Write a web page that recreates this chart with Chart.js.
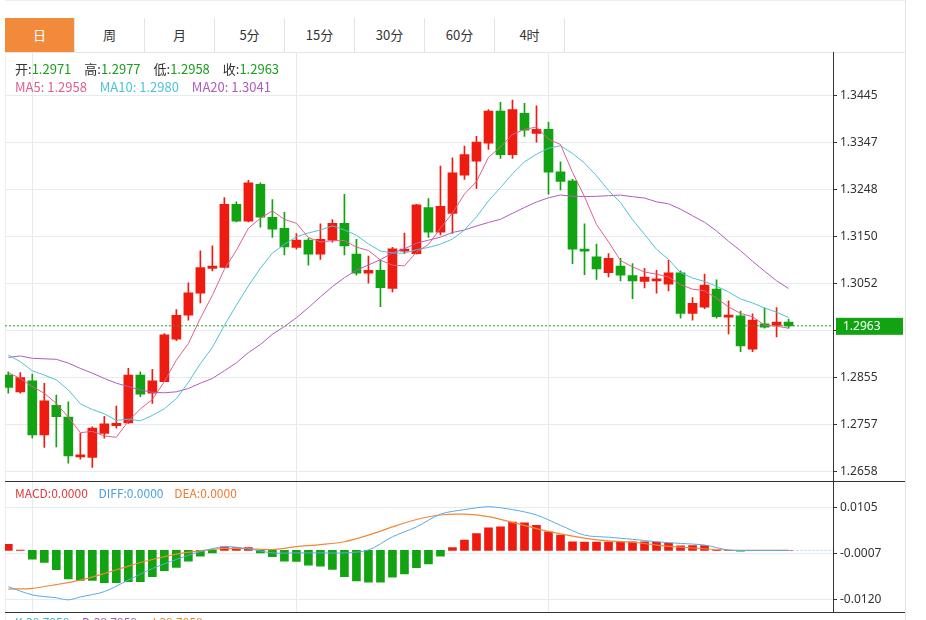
<!DOCTYPE html>
<html>
<head>
<meta charset="utf-8">
<script src="https://cdn.jsdelivr.net/npm/chart.js@4/dist/chart.umd.min.js"></script>
<style>
  body { margin:0; background:#fff; font-family:"Noto Sans CJK SC","Noto Sans",sans-serif; width:926px; height:620px; overflow:hidden; position:relative; }
  .tabs { position:absolute; left:5px; top:18px; height:34px; display:flex; }
  .tab { width:70px; height:34px; line-height:34px; text-align:center; font-size:13px; color:#333; border-right:1px solid #e3e3e3; box-sizing:border-box; }
  .tab.on { background:#f18a3b; color:#fff; }
  .hline { position:absolute; height:1px; }
  .vline { position:absolute; width:1px; }
  .info { position:absolute; font-size:13px; white-space:nowrap; }
  .info span { margin-right:10px; }
  canvas { position:absolute; }
</style>
</head>
<body>
<div class="tabs">
  <div class="tab on">日</div><div class="tab">周</div><div class="tab">月</div><div class="tab">5分</div>
  <div class="tab">15分</div><div class="tab">30分</div><div class="tab">60分</div><div class="tab">4时</div>
</div>
<div class="hline" style="left:5px;top:52px;width:900px;background:#e6e6e6"></div>
<div class="hline" style="left:5px;top:0;width:900px;background:#eee"></div>
<div class="vline" style="left:905px;top:0;height:620px;background:#e3e3e3"></div>
<div class="vline" style="left:5px;top:52px;height:568px;background:#eef1f3"></div>

<canvas id="mainChart" width="905" height="449" style="left:0;top:42px"></canvas>
<canvas id="macdChart" width="905" height="151" style="left:0;top:471px"></canvas>
<div class="hline" style="left:5px;top:481px;width:900px;background:#333"></div>
<div class="hline" style="left:5px;top:612px;width:900px;background:#333"></div>

<div class="info" style="left:15px;top:59px;color:#333">
  <span>开:<b style="font-weight:normal;color:#1a9f1a">1.2971</b></span>
  <span>高:<b style="font-weight:normal;color:#1a9f1a">1.2977</b></span>
  <span>低:<b style="font-weight:normal;color:#1a9f1a">1.2958</b></span>
  <span>收:<b style="font-weight:normal;color:#1a9f1a">1.2963</b></span>
</div>
<div class="info" style="left:15px;top:77px">
  <span style="color:#e0608a">MA5: 1.2958</span>
  <span style="color:#4fc3d8">MA10: 1.2980</span>
  <span style="color:#b05cc0">MA20: 1.3041</span>
</div>
<div class="info" style="left:15px;top:484px;font-size:12px">
  <span style="color:#e03a3a;margin-right:8px">MACD:0.0000</span>
  <span style="color:#4a9fe0;margin-right:8px">DIFF:0.0000</span>
  <span style="color:#ee7a30">DEA:0.0000</span>
</div>
<div class="info" style="left:15px;top:613px;font-size:12px">
  <span style="color:#3bb6c8">K:38.7958</span>
  <span style="color:#9b59b6">D:38.7958</span>
  <span style="color:#e58a2e">J:38.7958</span>
</div>

<script>
const opens  = [1.2860,1.2825,1.2848,1.2735,1.2797,1.2772,1.2689,1.2688,1.2738,1.2754,1.2760,1.2860,1.2822,1.2846,1.2935,1.2985,1.3031,1.3083,1.3085,1.3217,1.3182,1.3259,1.3190,1.3167,1.3127,1.3142,1.3113,1.3142,1.3177,1.3113,1.3073,1.3079,1.3041,1.3119,1.3114,1.3210,1.3159,1.3198,1.3278,1.3307,1.3345,1.3412,1.3321,1.3407,1.3365,1.3374,1.3285,1.3266,1.3123,1.3107,1.3074,1.3088,1.3068,1.3056,1.3057,1.3050,1.3074,1.2989,1.3002,1.3040,1.2981,1.2984,1.2914,1.2967,1.2964,1.2971];
const highs  = [1.2867,1.2865,1.2862,1.2843,1.2818,1.2804,1.2738,1.2752,1.2774,1.2795,1.2874,1.2867,1.2872,1.2947,1.2997,1.3053,1.3120,1.3130,1.3231,1.3222,1.3267,1.3262,1.3227,1.3200,1.3156,1.3146,1.3176,1.3185,1.3238,1.3144,1.3109,1.3100,1.3127,1.3157,1.3217,1.3229,1.3297,1.3314,1.3339,1.3359,1.3415,1.3430,1.3435,1.3428,1.3423,1.3389,1.3306,1.3269,1.3176,1.3134,1.3114,1.3104,1.3093,1.3083,1.3079,1.3100,1.3078,1.3022,1.3071,1.3059,1.3015,1.2994,1.2988,1.3000,1.3001,1.2977];
const lows   = [1.2822,1.2822,1.2728,1.2709,1.2710,1.2676,1.2684,1.2667,1.2728,1.2749,1.2759,1.2815,1.2801,1.2846,1.2932,1.2975,1.3011,1.3078,1.3085,1.3180,1.3180,1.3169,1.3148,1.3111,1.3123,1.3090,1.3102,1.3138,1.3111,1.3069,1.3052,1.3003,1.3034,1.3114,1.3113,1.3148,1.3153,1.3156,1.3269,1.3250,1.3332,1.3313,1.3313,1.3359,1.3347,1.3238,1.3247,1.3093,1.3070,1.3060,1.3065,1.3057,1.3020,1.3042,1.3031,1.3036,1.2979,1.2975,1.2999,1.2979,1.2946,1.2909,1.2909,1.2958,1.2940,1.2958];
const closes = [1.2834,1.2855,1.2735,1.2806,1.2773,1.2691,1.2693,1.2749,1.2758,1.2759,1.2860,1.2820,1.2848,1.2944,1.2985,1.3032,1.3085,1.3088,1.3217,1.3182,1.3262,1.3190,1.3165,1.3128,1.3142,1.3113,1.3144,1.3177,1.3130,1.3073,1.3079,1.3043,1.3124,1.3123,1.3216,1.3159,1.3213,1.3283,1.3321,1.3347,1.3412,1.3321,1.3415,1.3372,1.3374,1.3284,1.3265,1.3123,1.3119,1.3082,1.3104,1.3069,1.3057,1.3065,1.3060,1.3074,1.2989,1.3010,1.3048,1.2982,1.2984,1.2921,1.2975,1.2960,1.2971,1.2963];

// moving-average values for the first bars (earlier history is not shown)
const ma5Head  = [1.2865,1.2853,1.2836,1.2822];
const ma10Head = [1.2902,1.2888,1.2869,1.2860,1.2850,1.2829,1.2800,1.2788,1.2779];
const ma20Head = [1.2897,1.2900,1.2895,1.2894,1.2893,1.2885,1.2874,1.2864,1.2853,1.2843,1.2836,1.2829,1.2824,1.2823,1.2825,1.2832,1.2843,1.2853,1.2869];

const priceTicks = [1.3445,1.3347,1.3248,1.3150,1.3052,1.2953,1.2855,1.2757,1.2658];
const lastPrice = 1.2963;

const macdHist = [0.0015,0.0001,-0.0021,-0.0029,-0.0047,-0.0069,-0.0073,-0.0073,-0.0078,-0.0078,-0.0076,-0.0076,-0.0064,-0.0049,-0.0041,-0.0026,-0.0014,-0.0006,0.0009,0.0007,0.0007,-0.0006,-0.0015,-0.0026,-0.0027,-0.0036,-0.0038,-0.0046,-0.0064,-0.0074,-0.0077,-0.0077,-0.0065,-0.0057,-0.0042,-0.0033,-0.0014,0.0007,0.0025,0.0041,0.0055,0.0057,0.0069,0.0067,0.0061,0.0045,0.0037,0.0021,0.0020,0.0020,0.0020,0.0020,0.0021,0.0021,0.0020,0.0017,0.0011,0.0012,0.0012,0.0001,0,-0.0002,0,0,0,0];
const diffIdx  = [0,2,4,5,6,8,10,12,14,16,18,20,22,24,26,28,30,32,34,36,38,40,42,44,46,48,50,52,54,56,58,60,62,65];
const diffVals = [-0.0088,-0.0108,-0.0115,-0.0120,-0.0113,-0.0100,-0.0072,-0.0044,-0.0022,-0.0003,0.0009,0.0004,-0.0006,-0.0006,-0.0006,-0.0006,0.0001,0.0033,0.0057,0.0088,0.0099,0.0106,0.0099,0.0086,0.0061,0.0037,0.0032,0.0027,0.0021,0.0017,0.0013,0.0001,0,0];
const deaIdx   = [0,2,4,6,8,10,12,14,16,18,20,22,24,26,28,30,32,34,36,38,40,42,44,46,48,50,52,54,56,58,60,62,65];
const deaVals  = [-0.0094,-0.0092,-0.0083,-0.0072,-0.0056,-0.0038,-0.0022,-0.0009,-0.0001,0.0005,0.0004,0.0002,0.0009,0.0014,0.0021,0.0037,0.0057,0.0075,0.0086,0.0088,0.0082,0.0068,0.0053,0.0040,0.0030,0.0023,0.0020,0.0013,0.0008,0.0004,0.0001,0,0];
const macdTicks = [0.0105,-0.0007,-0.0120];

const UP = '#ee1c10', DOWN = '#12a312';
const XMIN = -0.275, XMAX = 68.7;
const vGrid = [2, 24, 45];

function movingAvg(n, head) {
  return closes.map((c, i) => {
    if (i < n - 1) return {x: i, y: head[i]};
    let s = 0;
    for (let k = i - n + 1; k <= i; k++) s += closes[k];
    return {x: i, y: s / n};
  });
}

const candleColors = closes.map((c, i) => c >= opens[i] ? UP : DOWN);

// vertical grid lines at fixed bar positions
const vGridPlugin = {
  id: 'vGrid',
  beforeDatasetsDraw(chart) {
    const ctx = chart.ctx, a = chart.chartArea, x = chart.scales.x;
    ctx.save();
    ctx.strokeStyle = '#e6ebef';
    ctx.lineWidth = 1;
    vGrid.forEach(v => {
      const px = Math.round(x.getPixelForValue(v)) + 0.5;
      ctx.beginPath(); ctx.moveTo(px, a.top); ctx.lineTo(px, a.bottom); ctx.stroke();
    });
    ctx.restore();
  }
};

function xScale() {
  return {
    type: 'linear', min: XMIN, max: XMAX, offset: false,
    ticks: {display: false},
    grid: {display: false},
    border: {display: false}
  };
}
function yScale(min, max, ticks, fmt) {
  return {
    position: 'right', min: min, max: max,
    afterBuildTicks: a => { a.ticks = ticks.map(v => ({value: v})); },
    afterFit: s => { s.width = 72; },
    ticks: {color: '#333', font: {size: 12, family: 'Noto Sans'}, padding: 3, callback: fmt},
    grid: {color: '#e6ebef', tickColor: '#333', tickLength: 4},
    border: {display: true, color: '#333'}
  };
}

const priceTag = {
  id: 'priceTag',
  afterDraw(chart) {
    const ctx = chart.ctx, y = chart.scales.y.getPixelForValue(lastPrice);
    ctx.save();
    ctx.fillStyle = '#12a312';
    ctx.fillRect(836, y - 8, 67, 17);
    ctx.fillStyle = '#fff';
    ctx.font = '12px "Noto Sans"';
    ctx.textBaseline = 'middle';
    ctx.fillText(lastPrice.toFixed(4), 843, y + 1);
    ctx.restore();
  }
};

new Chart(document.getElementById('mainChart'), {
  type: 'bar',
  data: {
    datasets: [
      {data: closes.map((c, i) => ({x: i, y: [lows[i], highs[i]]})), backgroundColor: candleColors, barThickness: 1, grouped: false, order: 2},
      {data: closes.map((c, i) => ({x: i, y: [opens[i], c]})), backgroundColor: candleColors, barThickness: 9, minBarLength: 2, grouped: false, order: 1},
      {type: 'line', data: movingAvg(5, ma5Head), borderColor: '#e0608a', borderWidth: 1, pointRadius: 0, tension: 0, order: 0},
      {type: 'line', data: movingAvg(10, ma10Head), borderColor: '#4fc3d8', borderWidth: 1, pointRadius: 0, tension: 0, order: 0},
      {type: 'line', data: movingAvg(20, ma20Head), borderColor: '#b05cc0', borderWidth: 1, pointRadius: 0, tension: 0, order: 0},
      {type: 'line', data: [{x: XMIN, y: lastPrice}, {x: XMAX, y: lastPrice}], borderColor: '#2a9d2a', borderWidth: 1, borderDash: [2, 2], pointRadius: 0, order: 0}
    ]
  },
  options: {
    animation: false, responsive: false, devicePixelRatio: 1,
    layout: {padding: {left: 5, top: 0, bottom: 0, right: 0}},
    plugins: {legend: {display: false}, tooltip: {enabled: false}},
    scales: {x: xScale(), y: yScale(1.2639, 1.3535, priceTicks, v => v.toFixed(4))}
  },
  plugins: [vGridPlugin, priceTag]
});

new Chart(document.getElementById('macdChart'), {
  type: 'bar',
  data: {
    datasets: [
      {data: macdHist.map((v, i) => ({x: i, y: v})), backgroundColor: macdHist.map(v => v >= 0 ? UP : DOWN), barThickness: 8, grouped: false, order: 1},
      {type: 'line', data: diffIdx.map((x, k) => ({x: x, y: diffVals[k]})), borderColor: '#5aaae6', borderWidth: 1, pointRadius: 0, tension: 0.3, order: 0},
      {type: 'line', data: deaIdx.map((x, k) => ({x: x, y: deaVals[k]})), borderColor: '#f0883a', borderWidth: 1.2, pointRadius: 0, tension: 0.3, order: 0},
      {type: 'line', data: [{x: 65, y: 0}, {x: XMAX, y: 0}], borderColor: '#a8d4f0', borderWidth: 1, borderDash: [2, 2], pointRadius: 0, order: 0}
    ]
  },
  options: {
    animation: false, responsive: false, devicePixelRatio: 1,
    layout: {padding: {left: 5, top: 0, bottom: 0, right: 0}},
    plugins: {legend: {display: false}, tooltip: {enabled: false}},
    scales: {x: xScale(), y: yScale(-0.0149, 0.0168, macdTicks, v => v.toFixed(4))}
  },
  plugins: [vGridPlugin]
});
</script>
</body>
</html>
